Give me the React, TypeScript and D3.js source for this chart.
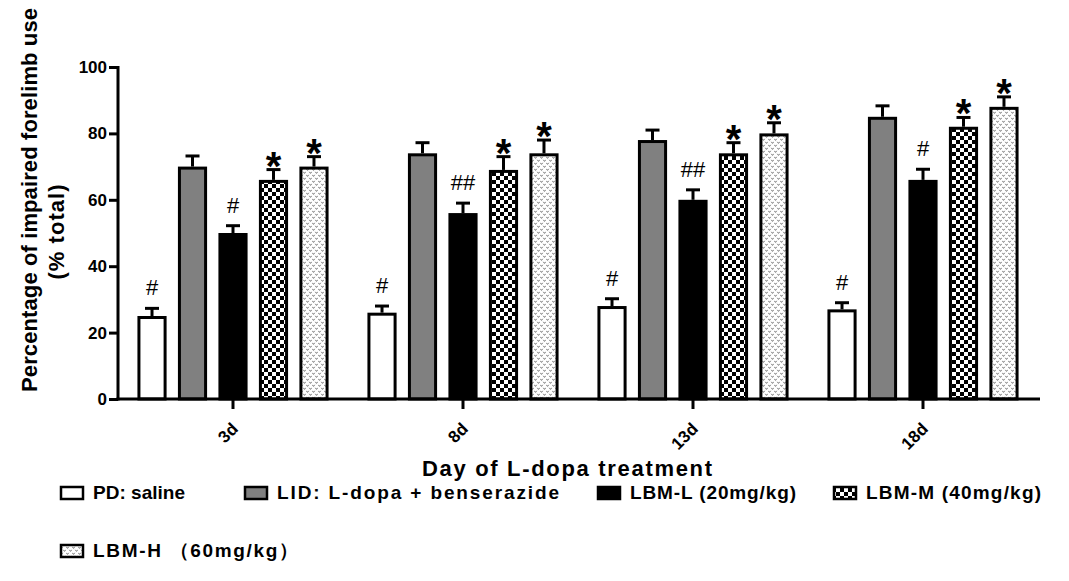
import React, { useEffect, useRef } from 'react';
import * as d3 from 'd3';

// days of L-dopa treatment
const days = ['3d', '8d', '13d', '18d'];
const groups = ['PD: saline', 'LID: L-dopa + benserazide', 'LBM-L (20mg/kg)', 'LBM-M (40mg/kg)', 'LBM-H （60mg/kg）'];
const yTicks = [0, 20, 40, 60, 80, 100];

// % impaired forelimb use (mean)
const pdSaline = [25, 26, 28, 27];
const lid = [70, 74, 78, 85];
const lbmL = [50, 56, 60, 66];
const lbmM = [66, 69, 74, 82];
const lbmH = [70, 74, 80, 88];

// SEM
const pdSalineErr = [2.3, 2, 2.2, 2];
const lidErr = [3.2, 3.2, 3, 3.3];
const lbmLErr = [2.2, 3, 3, 3.2];
const lbmMErr = [3.1, 4, 3.2, 2.8];
const lbmHErr = [3, 4, 3.2, 3];

// significance marks
const pdSalineSig = ['#', '#', '#', '#'];
const lidSig = ['', '', '', ''];
const lbmLSig = ['#', '##', '##', '#'];
const lbmMSig = ['*', '*', '*', '*'];
const lbmHSig = ['*', '*', '*', '*'];

const FONT = '"Liberation Sans", Arial, sans-serif';

const App = () => {
  const chartRef = useRef(null);

  useEffect(() => {
    const svg = d3.select(chartRef.current);
    svg.selectAll('*').remove();

    const defs = svg.append('defs');
    const checker = defs
      .append('pattern')
      .attr('id', 'checker')
      .attr('patternUnits', 'userSpaceOnUse')
      .attr('width', 8)
      .attr('height', 8);
    checker.append('rect').attr('width', 8).attr('height', 8).attr('fill', '#fff');
    checker.append('rect').attr('width', 4).attr('height', 4).attr('fill', '#000');
    checker.append('rect').attr('x', 4).attr('y', 4).attr('width', 4).attr('height', 4).attr('fill', '#000');

    const dots = defs
      .append('pattern')
      .attr('id', 'dots')
      .attr('patternUnits', 'userSpaceOnUse')
      .attr('width', 6)
      .attr('height', 6);
    dots.append('rect').attr('width', 6).attr('height', 6).attr('fill', '#fff');
    dots
      .append('path')
      .attr('d', 'M0.3,0.8 L1.5,2.4 L2.7,0.8 M3.3,3.8 L4.5,5.4 L5.7,3.8')
      .attr('stroke', '#666')
      .attr('stroke-width', 0.9)
      .attr('fill', 'none');

    const fills = ['#fff', '#808080', '#000', 'url(#checker)', 'url(#dots)'];
    const values = [pdSaline, lid, lbmL, lbmM, lbmH];
    const errs = [pdSalineErr, lidErr, lbmLErr, lbmMErr, lbmHErr];
    const sigs = [pdSalineSig, lidSig, lbmLSig, lbmMSig, lbmHSig];

    const x0 = d3.scaleBand().domain(days).range([118, 1038]);
    const x1 = d3
      .scaleBand()
      .domain(groups)
      .range([0, x0.bandwidth()])
      .paddingInner(0.28)
      .paddingOuter(0.48);
    const y = d3.scaleLinear().domain([0, 100]).range([399, 67]);

    const data = [];
    days.forEach((d, j) => {
      groups.forEach((g, i) => {
        data.push({ day: d, group: g, v: values[i][j], e: errs[i][j], sig: sigs[i][j], fill: fills[i] });
      });
    });

    const bw = x1.bandwidth();
    const bars = svg.append('g');
    bars
      .selectAll('rect')
      .data(data)
      .enter()
      .append('rect')
      .attr('x', (d) => x0(d.day) + x1(d.group) + 1.5)
      .attr('y', (d) => y(d.v) + 1.5)
      .attr('width', bw - 3)
      .attr('height', (d) => y(0) - y(d.v) - 1.5)
      .attr('fill', (d) => d.fill)
      .attr('stroke', '#000')
      .attr('stroke-width', 3);

    // error bars (upper only)
    const err = svg.append('g').attr('stroke', '#000').attr('stroke-width', 3);
    data.forEach((d) => {
      const cx = x0(d.day) + x1(d.group) + bw / 2;
      err.append('line').attr('x1', cx).attr('x2', cx).attr('y1', y(d.v)).attr('y2', y(d.v + d.e));
      err.append('line').attr('x1', cx - 7).attr('x2', cx + 7).attr('y1', y(d.v + d.e)).attr('y2', y(d.v + d.e));
    });

    // significance marks
    data
      .filter((d) => d.sig)
      .forEach((d) => {
        const cx = x0(d.day) + x1(d.group) + bw / 2;
        const isStar = d.sig === '*';
        svg
          .append('text')
          .attr('x', cx)
          .attr('y', isStar ? y(d.v + d.e) + 10 : y(d.v + d.e) - 13)
          .attr('text-anchor', 'middle')
          .style('font-family', FONT)
          .style('font-size', isStar ? '40px' : '22px')
          .style('font-weight', isStar ? 'bold' : 'normal')
          .text(d.sig);
      });

    // y axis
    const yAxis = svg
      .append('g')
      .attr('transform', 'translate(118,0)')
      .call(d3.axisLeft(y).tickValues(yTicks).tickSize(9).tickSizeOuter(0).tickPadding(2));
    yAxis.select('.domain').attr('stroke-width', 3).attr('d', `M0,${y(100) - 1}V${y(0) + 1.5}`);
    yAxis.selectAll('.tick line').attr('stroke-width', 3);
    yAxis
      .selectAll('.tick text')
      .style('font-family', FONT)
      .style('font-size', '17px')
      .style('font-weight', 'bold')
      .attr('fill', '#000');

    // x axis
    const xAxis = svg
      .append('g')
      .attr('transform', 'translate(0,399)')
      .call(d3.axisBottom(x0).tickSize(10).tickSizeOuter(0));
    xAxis.select('.domain').attr('stroke-width', 3).attr('d', 'M116.5,0H1040');
    xAxis.selectAll('.tick line').attr('stroke-width', 3);
    xAxis
      .selectAll('.tick text')
      .attr('x', 0)
      .attr('y', 0)
      .attr('dy', 0)
      .attr('transform', 'translate(6,31) rotate(-45)')
      .attr('text-anchor', 'end')
      .style('font-family', FONT)
      .style('font-size', '17px')
      .style('font-weight', 'bold')
      .attr('fill', '#000');

    // axis titles
    svg
      .append('text')
      .attr('x', 567)
      .attr('y', 476)
      .attr('text-anchor', 'middle')
      .attr('textLength', 290)
      .attr('lengthAdjust', 'spacing')
      .style('font-family', FONT)
      .style('font-size', '22px')
      .style('font-weight', 'bold')
      .text('Day of L-dopa treatment');

    svg
      .append('text')
      .attr('transform', 'translate(37,200) rotate(-90)')
      .attr('text-anchor', 'middle')
      .attr('textLength', 384)
      .attr('lengthAdjust', 'spacing')
      .style('font-family', FONT)
      .style('font-size', '22px')
      .style('font-weight', 'bold')
      .text('Percentage of impaired forelimb use');
    svg
      .append('text')
      .attr('transform', 'translate(64,232) rotate(-90)')
      .attr('text-anchor', 'middle')
      .attr('textLength', 95)
      .attr('lengthAdjust', 'spacing')
      .style('font-family', FONT)
      .style('font-size', '22px')
      .style('font-weight', 'bold')
      .text('(% total)');

    // legend
    const legendPos = [
      { x: 61, row: 0, len: 92 },
      { x: 245, row: 0, len: 282 },
      { x: 598, row: 0, len: 166 },
      { x: 834, row: 0, len: 175 },
      { x: 61, row: 1, len: 205 },
    ];
    const rowY = [499, 557];
    groups.forEach((g, i) => {
      const p = legendPos[i];
      const ly = rowY[p.row];
      svg
        .append('rect')
        .attr('x', p.x)
        .attr('y', ly - 12)
        .attr('width', 22)
        .attr('height', 12)
        .attr('fill', fills[i])
        .attr('stroke', '#000')
        .attr('stroke-width', 2.5);
      svg
        .append('text')
        .attr('x', p.x + 32)
        .attr('y', ly)
        .attr('textLength', p.len)
        .attr('lengthAdjust', 'spacing')
        .style('font-family', FONT)
        .style('font-size', '19px')
        .style('font-weight', 'bold')
        .text(g);
    });
  }, []);

  return (
    <svg
      ref={chartRef}
      width={1069}
      height={581}
      style={{ position: 'absolute', left: 0, top: 0, background: '#fff' }}
    />
  );
};

export default App;
